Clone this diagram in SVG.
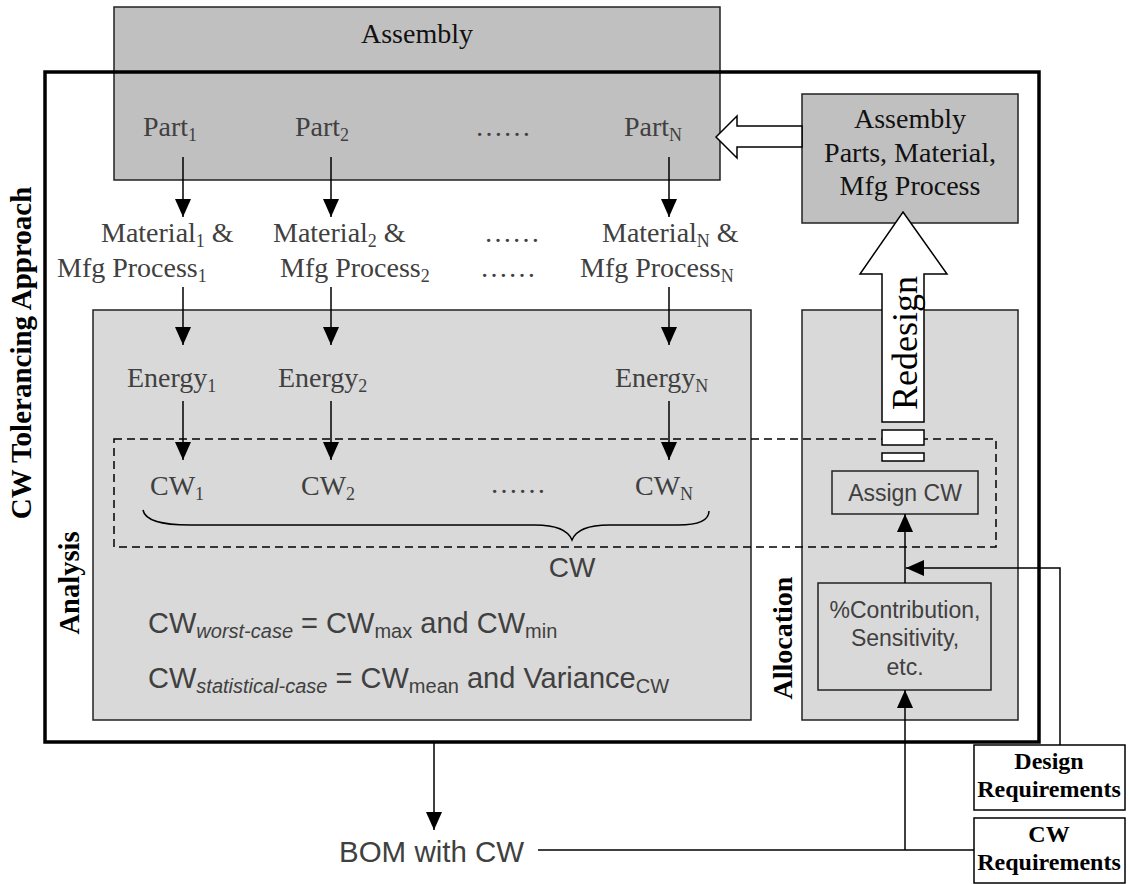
<svg xmlns="http://www.w3.org/2000/svg" width="1130" height="884" viewBox="0 0 1130 884">
<style>
.tm{font-family:"Liberation Serif","Times New Roman",serif;font-size:28px;fill:#404040}
.tb{font-family:"Liberation Serif","Times New Roman",serif;font-weight:bold;fill:#000}
.ar{font-family:"Liberation Sans",Arial,sans-serif;fill:#404040}
.sb{font-size:18px}
.it{font-style:italic}
.box1{fill:#c0c0c0;stroke:#222;stroke-width:1.5}
.box2{fill:#d9d9d9;stroke:#222;stroke-width:1.5}
.wbox{fill:#fff;stroke:#000;stroke-width:1.5}
.hollow{fill:#fff;stroke:#000;stroke-width:1.5}
.con{fill:none;stroke:#000;stroke-width:1.5}
.arr{fill:none;stroke:#000;stroke-width:1.5;marker-end:url(#ah)}
.rd{font-family:"Liberation Serif","Times New Roman",serif;font-size:36px;fill:#000}
</style>
<defs>
<marker id="ah" viewBox="0 0 18 16" refX="18" refY="8" markerWidth="18" markerHeight="16" markerUnits="userSpaceOnUse" orient="auto">
<path d="M0,0 L18,8 L0,16 z" fill="#000"/>
</marker>
</defs>

<g id="assembly">
<rect class="box1" x="114" y="7" width="606" height="173"/>
<text class="tm" x="417" y="43" text-anchor="middle" style="fill:#111">Assembly</text>
<text class="tm" x="143" y="136">Part<tspan class="sb" dy="5">1</tspan></text>
<text class="tm" x="295" y="136">Part<tspan class="sb" dy="5">2</tspan></text>
<text class="tm" x="475" y="136">……</text>
<text class="tm" x="624" y="136">Part<tspan class="sb" dy="5">N</tspan></text>
</g>

<g id="outer">
<rect x="45" y="72" width="994" height="670" fill="none" stroke="#000" stroke-width="3.5"/>
<text class="tb" font-size="29" transform="translate(31,353) rotate(-90)" text-anchor="middle">CW Tolerancing Approach</text>
</g>

<g id="asm-parts">
<rect class="box1" x="802" y="94" width="216" height="129"/>
<text class="tm" x="910" y="128" text-anchor="middle" style="fill:#111">Assembly</text>
<text class="tm" x="910" y="162" text-anchor="middle" style="fill:#111">Parts, Material,</text>
<text class="tm" x="910" y="195" text-anchor="middle" style="fill:#111">Mfg Process</text>
</g>

<g id="materials">
<text class="tm" x="101" y="242">Material<tspan class="sb" dy="5">1</tspan><tspan dy="-5"> &amp;</tspan></text>
<text class="tm" x="57" y="277">Mfg Process<tspan class="sb" dy="5">1</tspan></text>
<text class="tm" x="273" y="242">Material<tspan class="sb" dy="5">2</tspan><tspan dy="-5"> &amp;</tspan></text>
<text class="tm" x="280" y="277">Mfg Process<tspan class="sb" dy="5">2</tspan></text>
<text class="tm" x="484" y="242">……</text>
<text class="tm" x="480" y="277">……</text>
<text class="tm" x="602" y="242">Material<tspan class="sb" dy="5">N</tspan><tspan dy="-5"> &amp;</tspan></text>
<text class="tm" x="580" y="277">Mfg Process<tspan class="sb" dy="5">N</tspan></text>
</g>

<g id="analysis">
<rect class="box2" x="93" y="310" width="658" height="410"/>
<text class="tb" font-size="28.5" transform="translate(79,583) rotate(-90)" text-anchor="middle">Analysis</text>
<text class="tm" x="127" y="387">Energy<tspan class="sb" dy="5">1</tspan></text>
<text class="tm" x="278" y="387">Energy<tspan class="sb" dy="5">2</tspan></text>
<text class="tm" x="615" y="387">Energy<tspan class="sb" dy="5">N</tspan></text>
<text class="tm" x="150" y="495">CW<tspan class="sb" dy="5">1</tspan></text>
<text class="tm" x="301" y="495">CW<tspan class="sb" dy="5">2</tspan></text>
<text class="tm" x="490" y="493">……</text>
<text class="tm" x="635" y="495">CW<tspan class="sb" dy="5">N</tspan></text>
<path class="con" d="M143,510 C145,521 163,525 190,525 L535,525 C556,525 568,530 572,540 C576,530 588,525 609,525 L678,525 C699,525 709,520 709,511"/>
<text class="ar" font-size="28" x="572" y="577" text-anchor="middle">CW</text>
<text class="ar" font-size="29" x="148" y="633">CW<tspan class="it" font-size="20" dy="5">worst-case</tspan><tspan dy="-5"> = CW</tspan><tspan font-size="20" dy="5">max</tspan><tspan dy="-5"> and CW</tspan><tspan font-size="20" dy="5">min</tspan></text>
<text class="ar" font-size="29" x="148" y="688">CW<tspan class="it" font-size="20" dy="5">statistical-case</tspan><tspan dy="-5"> = CW</tspan><tspan font-size="20" dy="5">mean</tspan><tspan dy="-5"> and Variance</tspan><tspan font-size="20" dy="5">CW</tspan></text>
</g>

<g id="allocation">
<rect class="box2" x="802" y="310" width="216" height="410"/>
<text class="tb" font-size="28" transform="translate(792,638) rotate(-90)" text-anchor="middle">Allocation</text>
</g>

<g id="cw-group">
<rect x="114" y="439" width="882" height="108" fill="none" stroke="#000" stroke-width="1.5" stroke-dasharray="8,5"/>
</g>

<g id="assign-cw">
<rect class="box2" x="832" y="471" width="146" height="43"/>
<text class="ar" font-size="23" x="905" y="501" text-anchor="middle">Assign CW</text>
</g>

<g id="contribution">
<rect class="box2" x="818" y="583" width="173" height="107"/>
<text class="ar" font-size="23" x="905" y="618" text-anchor="middle">%Contribution,</text>
<text class="ar" font-size="23" x="905" y="646" text-anchor="middle">Sensitivity,</text>
<text class="ar" font-size="23" x="905" y="675" text-anchor="middle">etc.</text>
</g>

<g id="design-req">
<rect class="wbox" x="974" y="745" width="151" height="65"/>
<text class="tb" font-size="24" x="1049" y="769" text-anchor="middle">Design</text>
<text class="tb" font-size="24" x="1049" y="797" text-anchor="middle">Requirements</text>
</g>

<g id="cw-req">
<rect class="wbox" x="974" y="818" width="151" height="65"/>
<text class="tb" font-size="24" x="1049" y="842" text-anchor="middle">CW</text>
<text class="tb" font-size="24" x="1049" y="870" text-anchor="middle">Requirements</text>
</g>

<g id="bom">
<text class="ar" font-size="29.5" x="339" y="862">BOM with CW</text>
</g>

<g id="connectors">
<line class="arr" x1="183" y1="157" x2="183" y2="217"/>
<line class="arr" x1="331" y1="157" x2="331" y2="217"/>
<line class="arr" x1="669" y1="157" x2="669" y2="217"/>
<line class="arr" x1="183" y1="287" x2="183" y2="345"/>
<line class="arr" x1="331" y1="287" x2="331" y2="345"/>
<line class="arr" x1="669" y1="287" x2="669" y2="345"/>
<line class="arr" x1="183" y1="401" x2="183" y2="460"/>
<line class="arr" x1="331" y1="401" x2="331" y2="460"/>
<line class="arr" x1="669" y1="401" x2="669" y2="460"/>
<polygon class="hollow" points="716,137 737,116 737,126 802,126 802,147 737,147 737,158"/>
<polygon class="hollow" points="903,212 947,274 924,274 924,422 882,422 882,274 860,274"/>
<rect class="hollow" x="882" y="430" width="42" height="15"/>
<rect class="hollow" x="882" y="453" width="42" height="8"/>
<line class="arr" x1="905" y1="583" x2="905" y2="514"/>
<polyline class="arr" points="1060,745 1060,568 906,568"/>
<line class="con" x1="538" y1="850" x2="974" y2="850"/>
<line class="arr" x1="905" y1="850" x2="905" y2="690"/>
<line class="arr" x1="434" y1="743" x2="434" y2="830"/>
</g>
<g id="redesign-label">
<text class="rd" transform="translate(917,343) rotate(-90)" text-anchor="middle">Redesign</text>
</g>
</svg>
